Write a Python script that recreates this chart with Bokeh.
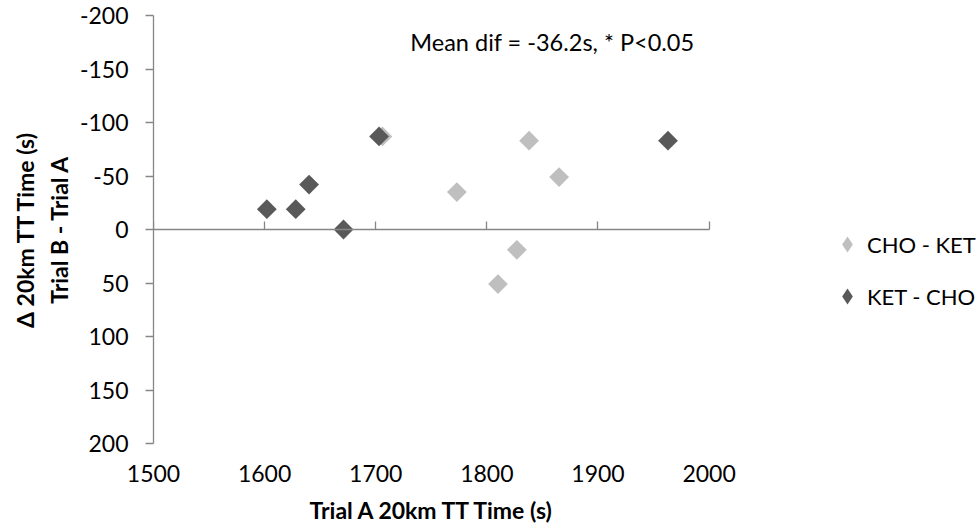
import math
from bokeh.plotting import figure
from bokeh.models import Range1d, FixedTicker, LinearAxis, Legend, LegendItem, Label, Title
from bokeh.embed import file_html
from bokeh.resources import INLINE

# ---- data ----
x_ticks = [1500, 1600, 1700, 1800, 1900, 2000]
y_ticks = [-200, -150, -100, -50, 0, 50, 100, 150, 200]

cho_ket_trial_a = [1706, 1773, 1838, 1865, 1827, 1810]
cho_ket_delta = [-87, -35, -83, -49, 19, 51]

ket_cho_trial_a = [1602, 1628, 1640, 1671, 1703, 1963]
ket_cho_delta = [-19, -19, -42, 0, -87, -83]

series_names = ["CHO - KET", "KET - CHO"]
note_text = "Mean dif = -36.2s, * P<0.05"
x_title = "Trial A 20km TT Time (s)"
y_title = "\u0394 20km TT Time (s)\nTrial B - Trial A"

# ---- layout / style ----
W, H = 979, 532
LEFT, TOP, BOTTOM = 153, 15, 89
AXIS_PX = 555.6                      # pixel length of the 1500..2000 axis
x_lo, x_hi = x_ticks[0], x_ticks[-1]
x_end = x_lo + (x_hi - x_lo) * (W - LEFT) / AXIS_PX   # frame spans to right edge

AXIS_COLOR = "#868686"
LIGHT = "#BFBFBF"
DARK = "#595959"
FONT = "Lato"
FS = "23px"

p = figure(width=W, height=H, output_backend="svg", toolbar_location=None,
           x_range=Range1d(x_lo, x_end), y_range=Range1d(y_ticks[-1], y_ticks[0]),
           min_border_left=LEFT, min_border_right=0, min_border_top=TOP,
           min_border_bottom=BOTTOM, x_axis_location=None, y_axis_location="left")
p.grid.visible = False
p.outline_line_color = None
p.background_fill_color = "white"
p.border_fill_color = "white"

ya = p.yaxis[0]
ya.ticker = FixedTicker(ticks=y_ticks)
ya.major_label_overrides = {t: str(t) for t in y_ticks}
ya.axis_line_color = AXIS_COLOR
ya.axis_line_width = 1.3
ya.major_tick_line_color = AXIS_COLOR
ya.major_tick_line_width = 1.3
ya.major_tick_out = 8
ya.major_tick_in = 0
ya.minor_tick_line_color = None
ya.major_label_text_font = FONT
ya.major_label_text_font_size = FS
ya.major_label_text_color = "black"
ya.major_label_standoff = 17
ya.axis_label = y_title
ya.axis_label_text_font = FONT
ya.axis_label_text_font_style = "bold"
ya.axis_label_text_font_size = FS
ya.axis_label_text_color = "black"
ya.axis_label_standoff = 4

# axis line at y = 0 with ticks pointing up
xa_line = LinearAxis(fixed_location=0, ticker=FixedTicker(ticks=x_ticks),
                     bounds=(x_lo, x_hi),
                     axis_line_color=AXIS_COLOR, axis_line_width=1.3,
                     major_tick_line_color=AXIS_COLOR, major_tick_line_width=1.3,
                     major_tick_in=8, major_tick_out=0, minor_tick_line_color=None,
                     major_label_text_alpha=0)
p.add_layout(xa_line, "below")

# labels-only axis at the bottom
xa_lab = LinearAxis(ticker=FixedTicker(ticks=x_ticks), bounds=(x_lo, x_hi),
                    axis_line_color=None,
                    major_tick_line_color=None, minor_tick_line_color=None,
                    major_tick_out=0, major_tick_in=0,
                    major_label_text_font=FONT, major_label_text_font_size=FS,
                    major_label_text_color="black", major_label_standoff=21)
p.add_layout(xa_lab, "below")

# x title, centred under the 1500..2000 axis
xt = Title(text=x_title, align="left", offset=156, vertical_align="bottom",
           text_font=FONT, text_font_style="bold", text_font_size=FS,
           text_color="black", standoff=18)
p.add_layout(xt, "below")

r1 = p.scatter(cho_ket_trial_a, cho_ket_delta, marker="square", size=14,
               angle=math.pi / 4, fill_color=LIGHT, line_color=None)
r2 = p.scatter(ket_cho_trial_a, ket_cho_delta, marker="square", size=14,
               angle=math.pi / 4, fill_color=DARK, line_color=None)

# legend proxies: diamond symbol only, their y is NaN so nothing is drawn in the plot
nan = float("nan")
g1 = p.scatter(cho_ket_trial_a[:1], [nan], marker="diamond",
               fill_color=LIGHT, line_color=None)
g2 = p.scatter(ket_cho_trial_a[:1], [nan], marker="diamond",
               fill_color=DARK, line_color=None)

legend = Legend(items=[LegendItem(label=series_names[0], renderers=[g1]),
                       LegendItem(label=series_names[1], renderers=[g2])],
                location=(674, 127), orientation="vertical",
                border_line_color=None, background_fill_alpha=0,
                padding=0, margin=0, spacing=12, glyph_width=40, glyph_height=40,
                label_height=20, label_standoff=0, label_text_font=FONT,
                label_text_font_size="22px", label_text_color="black")
p.add_layout(legend, "center")

note = Label(x=1859, y=-175, text=note_text, text_align="center",
             text_baseline="middle", text_font=FONT, text_font_size="23.5px",
             text_color="black")
p.add_layout(note)

open("out.html", "w").write(file_html(p, INLINE))
